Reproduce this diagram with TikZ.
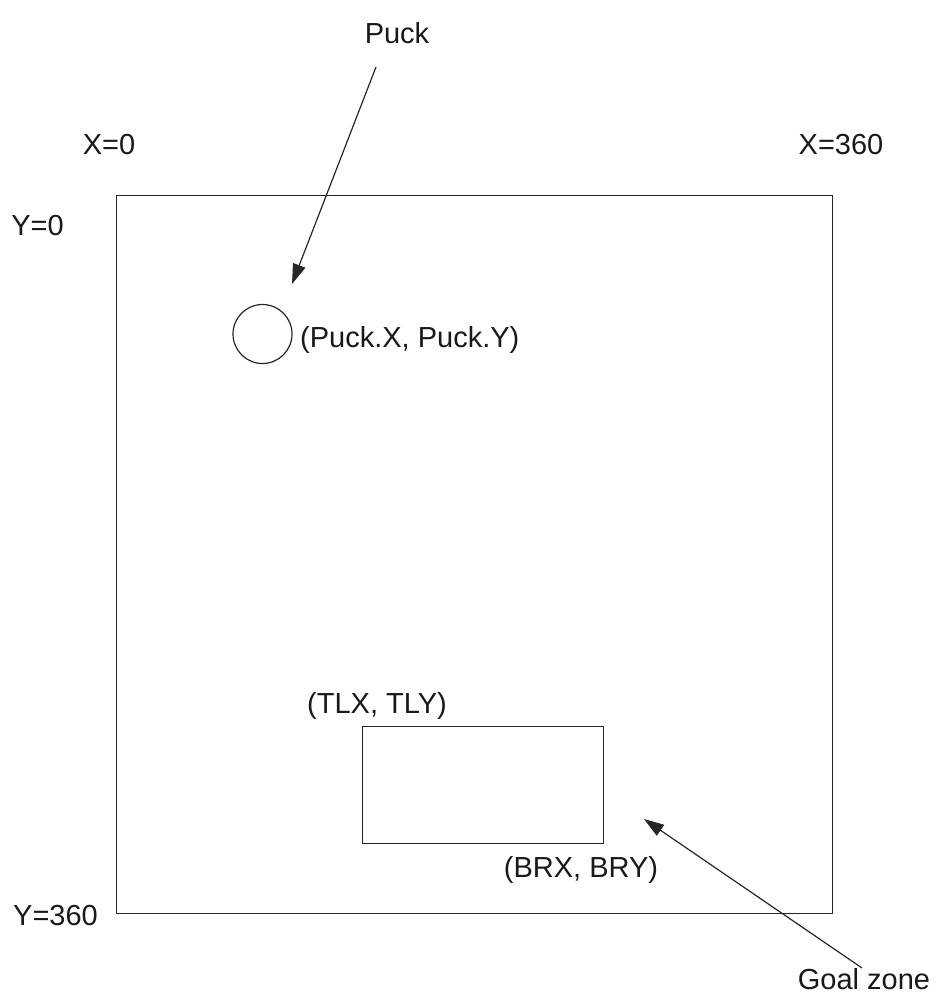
\documentclass[tikz,border=0pt]{standalone}
\usepackage{fontspec}
\setmainfont{Liberation Sans}
\usetikzlibrary{arrows.meta}
\begin{document}
\begin{tikzpicture}[x=1pt,y=-1pt,
  lbl/.style={inner sep=0pt,anchor=base,font=\fontsize{29}{35}\selectfont,text=black!90},
  shp/.style={draw=black!85,line width=1.2pt},
  pointer/.style={draw=black!85,line width=1.2pt,-{Triangle[length=20pt,width=13pt]}}]
\useasboundingbox (0,0) rectangle (937,997);
% field
\node[shp,minimum width=716pt,minimum height=718pt,inner sep=0pt,anchor=north west] (field) at (116,195) {};
% puck
\node[shp,circle,minimum size=59pt,inner sep=0pt] (puck) at (262.5,334) {};
% goal zone
\node[shp,minimum width=241pt,minimum height=117pt,inner sep=0pt,anchor=north west] (goal) at (362,726) {};
% labels
\node[lbl] (pucklbl) at (397,43) {Puck};
\node[lbl] (x0) at (109,154) {X=0};
\node[lbl] (x360) at (841,154) {X=360};
\node[lbl] (y0) at (37.5,235) {Y=0};
\node[lbl] (y360) at (55.5,925) {Y=360};
\node[lbl,anchor=base west] (puckxy) at (300,347) {(Puck.X, Puck.Y)};
\node[lbl] (tl) at (377,713) {(TLX, TLY)};
\node[lbl] (br) at (581,877) {(BRX, BRY)};
\node[lbl] (goallbl) at (864,989) {Goal zone};
% arrows
\coordinate (pa) at (376,67);
\coordinate (pt) at (292,284);
\coordinate (ga) at (862,968);
\coordinate (gt) at (644,819);
\draw[pointer] (pa) -- (pt);
\draw[pointer] (ga) -- (gt);
\end{tikzpicture}
\end{document}
